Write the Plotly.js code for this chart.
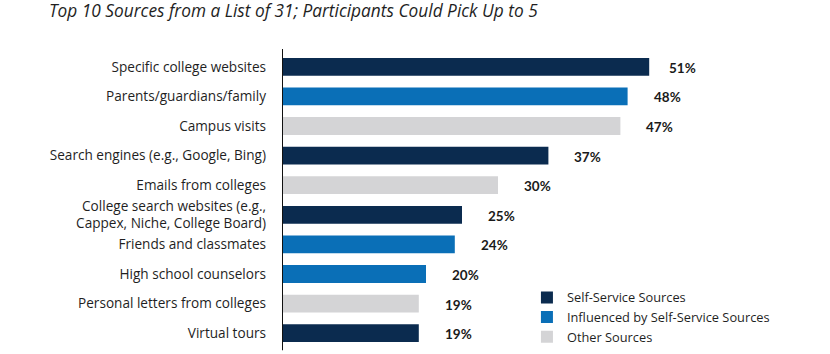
<!DOCTYPE html>
<html>
<head>
<meta charset="utf-8">
<script src="https://cdn.plot.ly/plotly-3.0.1.min.js"></script>
<style>html,body{margin:0;padding:0;background:#fff;}#chart{width:830px;height:354px;}</style>
</head>
<body>
<div id="chart"></div>
<script>
const categories = [
  "Specific college websites",
  "Parents/guardians/family",
  "Campus visits",
  "Search engines (e.g., Google, Bing)",
  "Emails from colleges",
  "College search websites (e.g.,<br>Cappex, Niche, College Board)",
  "Friends and classmates",
  "High school counselors",
  "Personal letters from colleges",
  "Virtual tours"
];
const values = [51, 48, 47, 37, 30, 25, 24, 20, 19, 19];
const groups = [
  "Self-Service Sources",
  "Influenced by Self-Service Sources",
  "Other Sources",
  "Self-Service Sources",
  "Other Sources",
  "Self-Service Sources",
  "Influenced by Self-Service Sources",
  "Influenced by Self-Service Sources",
  "Other Sources",
  "Self-Service Sources"
];
const groupNames = ["Self-Service Sources", "Influenced by Self-Service Sources", "Other Sources"];
const groupColors = ["#0b2b4f", "#0a6fb7", "#d4d4d6"];
const titleText = "Top 10 Sources from a List of 31; Participants Could Pick Up to 5";

const FONT = "'Open Sans', Lato, sans-serif";

const traces = groupNames.map((g, gi) => {
  const ys = [], xs = [];
  categories.forEach((c, i) => { if (groups[i] === g) { ys.push(c); xs.push(values[i]); } });
  return {
    type: "bar", orientation: "h", name: g, x: xs, y: ys,
    marker: {color: groupColors[gi], line: {width: 0}},
    width: 0.6, hoverinfo: "skip"
  };
});

const annotations = categories.map((c, i) => ({
  x: values[i], y: c, xref: "x", yref: "y",
  text: values[i] + "%", showarrow: false,
  xanchor: "left", yanchor: "middle", xshift: 24, yshift: -1,
  font: {family: "Lato, 'Open Sans', sans-serif", size: 13.5, color: "#1a1a1a", weight: "bold"}
}));
annotations[0].xshift = 18;

const layout = {
  width: 830, height: 354,
  margin: {l: 282, r: 44, t: 52, b: 6, pad: 0, autoexpand: false},
  paper_bgcolor: "#fff", plot_bgcolor: "#fff",
  title: {
    text: "<i>" + titleText + "</i>",
    x: 49/830, xanchor: "left", xref: "container",
    y: (354-11)/354, yref: "container", yanchor: "middle",
    font: {family: FONT, size: 17.3, color: "#1f1f1f"}
  },
  barmode: "relative",
  bargap: 0.4,
  showlegend: true,
  legend: {
    x: 0.486, xanchor: "left", y: 0.221, yanchor: "top",
    traceorder: "normal",
    font: {family: FONT, size: 12.8, color: "#1f1f1f"},
    itemclick: false, tracegroupgap: 0, bgcolor: "rgba(0,0,0,0)"
  },
  xaxis: {
    range: [0, 70], showgrid: false, zeroline: false, showline: false,
    showticklabels: false, ticks: "", fixedrange: true, automargin: false
  },
  yaxis: {
    type: "category", categoryorder: "array", categoryarray: categories,
    range: [9.5, -0.5], autorange: false, showgrid: false, zeroline: false, showline: false,
    ticks: "", ticklabelstandoff: 15, fixedrange: true, automargin: false,
    tickfont: {family: FONT, size: 13.6, color: "#1f1f1f"}
  },
  shapes: [{
    type: "line", xref: "x", yref: "paper", x0: 0, x1: 0, y0: -0.008, y1: 1.01,
    line: {color: "#111", width: 2}
  }],
  annotations: annotations
};

Plotly.newPlot("chart", traces, layout, {staticPlot: true, displayModeBar: false});
</script>
</body>
</html>
